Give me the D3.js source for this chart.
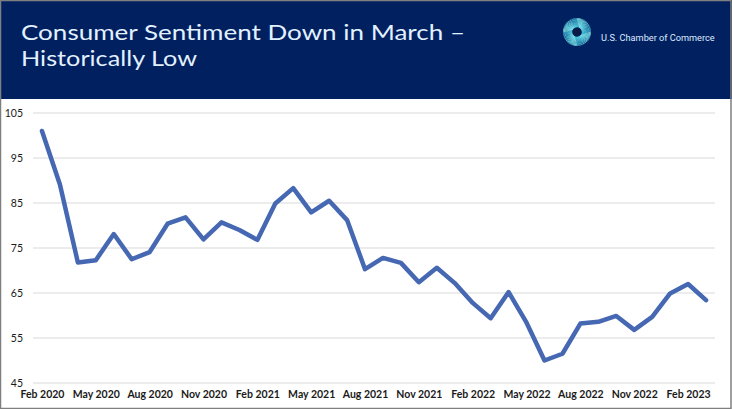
<!DOCTYPE html>
<html>
<head>
<meta charset="utf-8">
<script src="https://cdn.jsdelivr.net/npm/d3@7"></script>
<style>
  html, body { margin: 0; padding: 0; background: #ffffff; }
  svg { display: block; }
</style>
</head>
<body>
<svg id="chart" width="732" height="409"></svg>
<script>
// ---- data ----
const months = ["Feb 2020","Mar 2020","Apr 2020","May 2020","Jun 2020","Jul 2020","Aug 2020","Sep 2020","Oct 2020","Nov 2020","Dec 2020",
  "Jan 2021","Feb 2021","Mar 2021","Apr 2021","May 2021","Jun 2021","Jul 2021","Aug 2021","Sep 2021","Oct 2021","Nov 2021","Dec 2021",
  "Jan 2022","Feb 2022","Mar 2022","Apr 2022","May 2022","Jun 2022","Jul 2022","Aug 2022","Sep 2022","Oct 2022","Nov 2022","Dec 2022",
  "Jan 2023","Feb 2023","Mar 2023"];
const sentiment = [101.0, 89.1, 71.8, 72.3, 78.1, 72.5, 74.1, 80.4, 81.8, 76.9, 80.7,
  79.0, 76.8, 84.9, 88.3, 82.9, 85.5, 81.2, 70.3, 72.8, 71.7, 67.4, 70.6,
  67.2, 62.8, 59.4, 65.2, 58.4, 50.0, 51.5, 58.2, 58.6, 59.9, 56.8, 59.7,
  64.9, 67.0, 63.4];
const xTickLabels = ["Feb 2020","May 2020","Aug 2020","Nov 2020","Feb 2021","May 2021","Aug 2021","Nov 2021","Feb 2022","May 2022","Aug 2022","Nov 2022","Feb 2023"];
const yTicks = [45, 55, 65, 75, 85, 95, 105];
const titleLines = ["Consumer Sentiment Down in March \u2013", "Historically Low"];
const titleWidths = [444, 176];
const logoText = "U.S. Chamber of Commerce";

// ---- layout ----
const W = 732, H = 409;
const svg = d3.select("#chart");

// header
svg.append("rect").attr("x", 0).attr("y", 0).attr("width", W).attr("height", 99).attr("fill", "#002060");

// title (two separate lines, stretched to reference widths)
svg.selectAll("text.title").data(titleLines).enter().append("text")
  .attr("class", "title")
  .attr("x", 21)
  .attr("y", (d, i) => 40 + i * 26)
  .attr("font-family", "Lato, 'Open Sans', sans-serif")
  .attr("font-size", 21.5)
  .attr("fill", "#e3f1ff")
  .attr("textLength", (d, i) => titleWidths[i])
  .attr("lengthAdjust", "spacingAndGlyphs")
  .text(d => d);

// logo
const logo = svg.append("g").attr("transform", "translate(577,32)");
const nRays = 72;
const rays = d3.range(nRays);
logo.selectAll("line").data(rays).enter().append("line")
  .attr("x1", d => 5 * Math.cos(d / nRays * 2 * Math.PI + 0.6))
  .attr("y1", d => 5 * Math.sin(d / nRays * 2 * Math.PI + 0.6))
  .attr("x2", d => 14 * Math.cos(d / nRays * 2 * Math.PI))
  .attr("y2", d => 14 * Math.sin(d / nRays * 2 * Math.PI))
  .attr("stroke", (d, i) => d3.interpolateRgb("#7fe3e8", "#3cb6d6")((i % 18) / 18))
  .attr("stroke-width", 0.9);
logo.append("ellipse").attr("rx", 4.5).attr("ry", 3.8).attr("fill", "#0a1a44");

svg.append("text")
  .attr("x", 601).attr("y", 41)
  .attr("font-family", "Roboto, 'Liberation Sans', sans-serif")
  .attr("font-size", 9.2)
  .attr("fill", "#dfeaff")
  .text(logoText);

// borders
svg.append("rect").attr("x", 0.5).attr("y", 0.5).attr("width", W - 1.5).attr("height", H - 1)
  .attr("fill", "none").attr("stroke", "#7f7f7f").attr("stroke-width", 1.5);

// ---- scales ----
const x = d3.scalePoint().domain(months).range([33, 715]).padding(0.5);
const y = d3.scaleLinear().domain([45, 105]).range([383, 113]);

// gridlines
svg.append("g").selectAll("line").data(yTicks).enter().append("line")
  .attr("x1", 33).attr("x2", 715)
  .attr("y1", d => y(d)).attr("y2", d => y(d))
  .attr("stroke", "#d9d9d9").attr("stroke-width", 1);

// y axis labels
const yAxis = d3.axisLeft(y).tickValues(yTicks).tickSize(0).tickPadding(0);
const yg = svg.append("g").attr("transform", "translate(23,0)").call(yAxis);
yg.select(".domain").remove();
yg.selectAll("text")
  .attr("font-family", "Lato, 'Open Sans', sans-serif")
  .attr("font-size", 10.5)
  .attr("fill", "#1a1a1a");

// x axis labels
const xAxis = d3.axisBottom(x).tickValues(xTickLabels).tickSize(0).tickPadding(0);
const xg = svg.append("g").attr("transform", "translate(0,391)").call(xAxis);
xg.select(".domain").remove();
xg.selectAll("text")
  .attr("font-family", "Lato, 'Open Sans', sans-serif")
  .attr("font-size", 10.5)
  .attr("font-weight", "bold")
  .attr("fill", "#1a1a1a");

// line
const line = d3.line().x((d, i) => x(months[i])).y(d => y(d));
svg.append("path")
  .datum(sentiment)
  .attr("d", line)
  .attr("fill", "none")
  .attr("stroke", "#4668b3")
  .attr("stroke-width", 4.5)
  .attr("stroke-linejoin", "round")
  .attr("stroke-linecap", "round");
</script>
</body>
</html>
